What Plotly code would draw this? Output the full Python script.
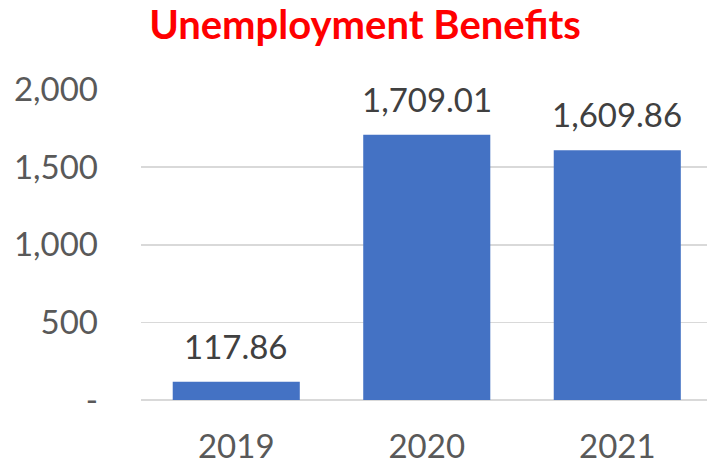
import plotly.graph_objects as go

years = ["2019", "2020", "2021"]
values = [117.86, 1709.01, 1609.86]
value_labels = ["117.86", "1,709.01", "1,609.86"]
y_tickvals = [0, 500, 1000, 1500, 2000]
y_ticktext = ["-", "500", "1,000", "1,500", "2,000"]

FONT = "Lato"

fig = go.Figure()
fig.add_trace(go.Bar(
    x=years, y=values,
    marker=dict(color="#4472C4", line=dict(width=0)),
    width=0.667,
    hoverinfo="skip",
))

for i, (v, t) in enumerate(zip(values, value_labels)):
    fig.add_annotation(
        x=i, y=v, xref="x", yref="y", text=t, showarrow=False,
        yanchor="bottom", yshift=14,
        font=dict(family=FONT, size=33, color="#404040"),
    )

W, H = 707, 465
fig.update_layout(
    width=W, height=H,
    margin=dict(l=141, r=0, t=89, b=65, autoexpand=False),
    paper_bgcolor="white", plot_bgcolor="white",
    showlegend=False,
    title=dict(
        text="<b>Unemployment Benefits</b>",
        font=dict(family=FONT, size=40, color="#FF0000"),
        x=365 / W, xref="container", xanchor="center",
        y=1 - 25 / H, yref="container", yanchor="middle",
    ),
    xaxis=dict(
        type="category",
        range=[-0.5, 2.471],
        showgrid=False, showline=False, zeroline=False,
        ticks="",
        tickfont=dict(family=FONT, size=33, color="#595959"),
        ticklabelstandoff=24,
    ),
    yaxis=dict(
        range=[0, 2004],
        tickvals=y_tickvals, ticktext=y_ticktext,
        showgrid=True, gridcolor="#D9D9D9", gridwidth=1.5,
        zeroline=True, zerolinecolor="#D9D9D9", zerolinewidth=1.5,
        showline=False, ticks="",
        tickfont=dict(family=FONT, size=33, color="#595959"),
        ticklabelstandoff=42,
    ),
)

fig.write_html(
    "out.html",
    config={"displayModeBar": False, "staticPlot": True},
    post_script="document.body.style.margin='0';document.body.style.overflow='hidden';",
)
